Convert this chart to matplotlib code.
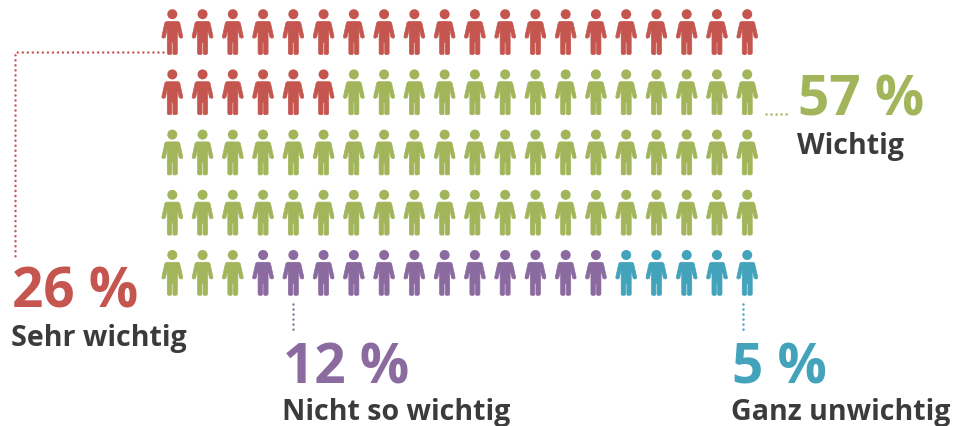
import numpy as np
import matplotlib
matplotlib.use("Agg")
import matplotlib.pyplot as plt
from matplotlib.path import Path
from matplotlib.patches import PathPatch, Circle

categories = ["Sehr wichtig", "Wichtig", "Nicht so wichtig", "Ganz unwichtig"]
values = [26, 57, 12, 5]
colors = ["#C5564F", "#A3B55B", "#8B6AA0", "#42A3BB"]
TEXT = "#3B3B3B"
value_pos = [(12, 307.5), (798, 116), (283, 384), (732, 384)]
label_pos = [(11, 346), (797, 154), (282, 420.5), (731, 420.5)]
leaders = [([163, 15, 15], [53, 53, 258]), ([766, 790], [115, 115]),
           ([293, 293], [305, 331]), ([743, 743], [305, 331])]

N_COLS, N_ROWS = 20, 5
X0, DX, Y0, DY = 172.3, 30.26, 10.5, 60.2

half = [(0, 22), (-6, 22), (-7.4, 23.2), (-10.4, 36.8), (-10.3, 38), (-9, 38.8), (-6.9, 37.8),
        (-5.2, 29.5), (-5, 30), (-5, 54), (-4, 55), (-1.3, 55), (-0.6, 54), (-0.6, 43), (0, 43)]
outline = half + [(-x, y) for x, y in reversed(half[:-1])]
body = np.array(outline)

fig = plt.figure(figsize=(9.7, 4.27), dpi=100)
ax = fig.add_axes([0, 0, 1, 1])
ax.set_xlim(0, 970)
ax.set_ylim(427, 0)
ax.axis("off")

cat_of_person = np.repeat(np.arange(len(values)), values)
for n, cat in enumerate(cat_of_person):
    row, col = divmod(n, N_COLS)
    cx = X0 + col * DX
    cy = Y0 + row * DY
    col_hex = colors[cat]
    ax.add_patch(Circle((cx, cy + 4.7), 5.0, fc=col_hex, ec="none"))
    pts = body + [cx, cy - 10]
    ax.add_patch(PathPatch(Path(np.vstack([pts, pts[0]]), closed=True), fc=col_hex, ec=col_hex,
                           lw=0.5, joinstyle="round"))

family = ["Open Sans", "DejaVu Sans"]
for i, cat in enumerate(categories):
    xs, ys = leaders[i]
    ax.plot(xs, ys, color=colors[i], lw=1.8, ls=(0, (0.01, 2.0)), dash_capstyle="round")
    ax.text(*value_pos[i], f"{values[i]} %", color=colors[i], fontsize=39.5, fontweight="bold",
            family=family, ha="left", va="baseline")
    ax.text(*label_pos[i], cat, color=TEXT, fontsize=20.6, fontweight="bold",
            family=family, ha="left", va="baseline")

fig.savefig("out.png", dpi=100, facecolor="white")
